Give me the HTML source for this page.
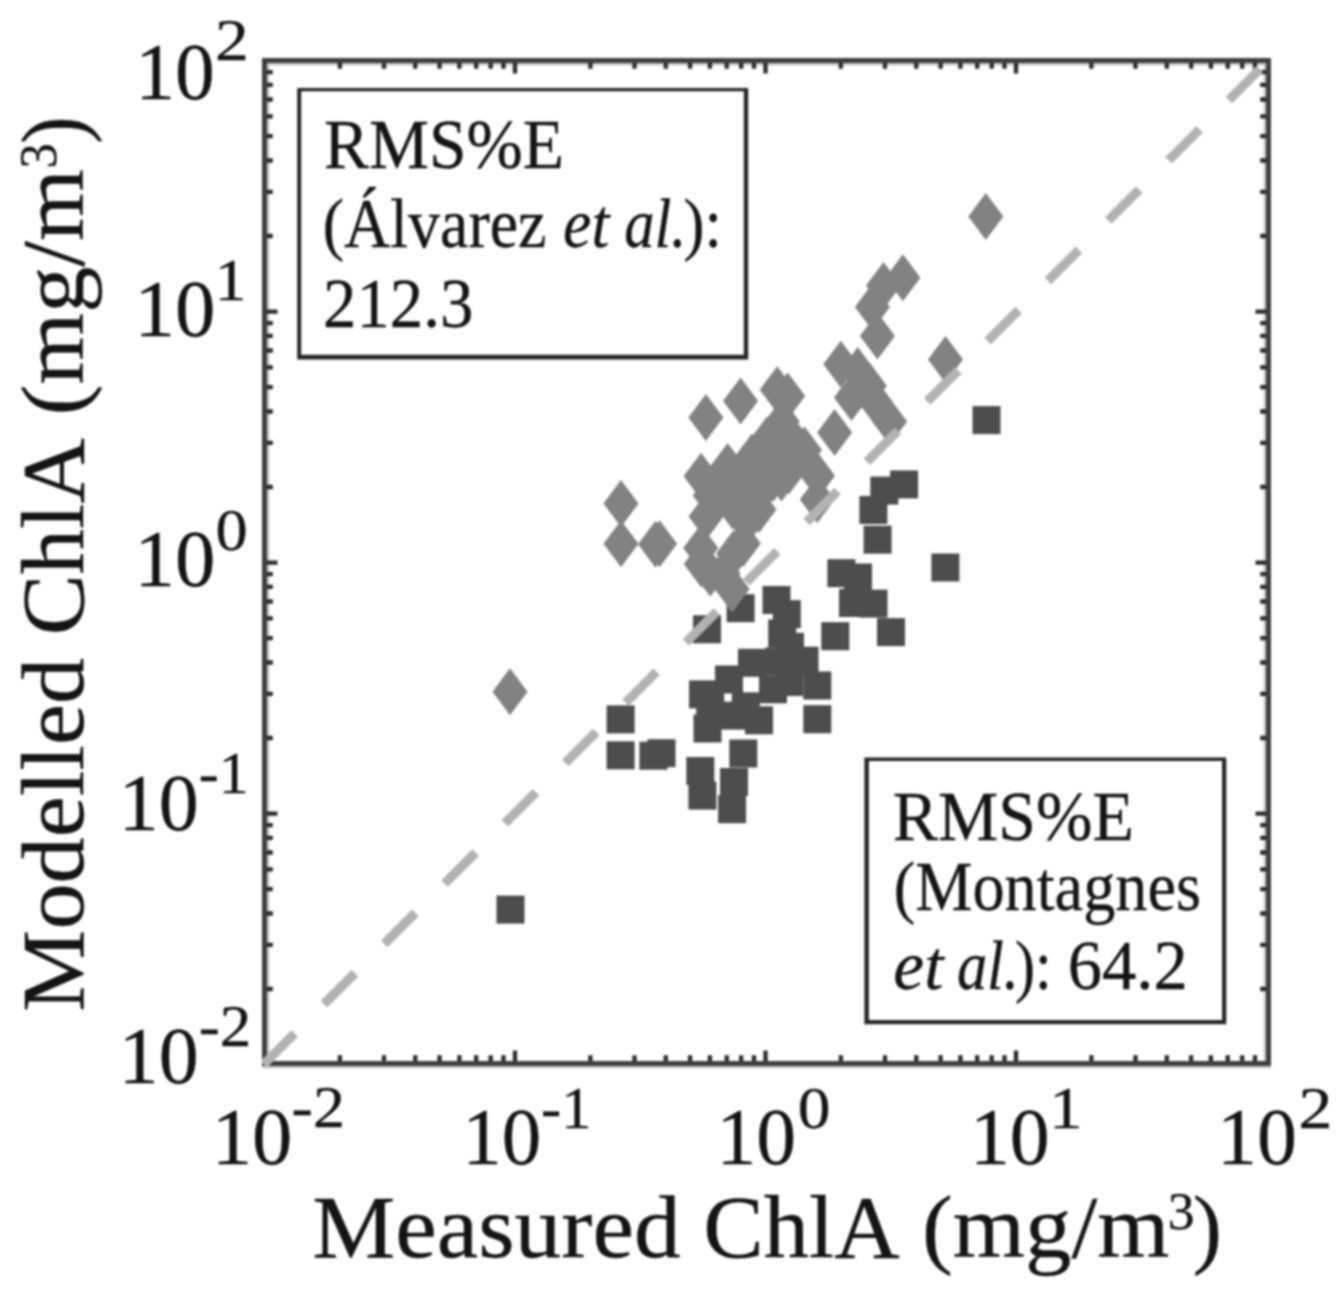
<!DOCTYPE html>
<html lang="en"><head><meta charset="utf-8"><title>Modelled vs Measured ChlA</title>
<style>html,body{margin:0;padding:0;background:#fff}svg{display:block;filter:blur(1px)}text{stroke:#141414;stroke-width:.35px}</style></head>
<body>
<svg width="1342" height="1291" viewBox="0 0 1342 1291" font-family="'Liberation Serif', serif" fill="#141414">
<rect width="1342" height="1291" fill="#fff"/>
<g fill="#4d4d4d">
<rect x="496.5" y="895.6" width="28.0" height="28.0"/>
<rect x="606.6" y="705.4" width="28.0" height="28.0"/>
<rect x="606.6" y="741.3" width="28.0" height="28.0"/>
<rect x="639.4" y="741.7" width="28.0" height="28.0"/>
<rect x="647.5" y="739.2" width="28.0" height="28.0"/>
<rect x="693.0" y="615.3" width="28.0" height="28.0"/>
<rect x="726.6" y="594.2" width="28.0" height="28.0"/>
<rect x="762.5" y="586.0" width="28.0" height="28.0"/>
<rect x="772.8" y="600.2" width="28.0" height="28.0"/>
<rect x="768.2" y="619.5" width="28.0" height="28.0"/>
<rect x="776.0" y="632.8" width="28.0" height="28.0"/>
<rect x="738.0" y="648.8" width="28.0" height="28.0"/>
<rect x="790.5" y="646.7" width="28.0" height="28.0"/>
<rect x="715.0" y="665.5" width="28.0" height="28.0"/>
<rect x="689.0" y="680.4" width="28.0" height="28.0"/>
<rect x="693.5" y="714.5" width="28.0" height="28.0"/>
<rect x="803.3" y="671.5" width="28.0" height="28.0"/>
<rect x="803.3" y="705.2" width="28.0" height="28.0"/>
<rect x="775.3" y="668.0" width="28.0" height="28.0"/>
<rect x="759.0" y="675.3" width="28.0" height="28.0"/>
<rect x="745.0" y="706.3" width="28.0" height="28.0"/>
<rect x="718.7" y="701.6" width="28.0" height="28.0"/>
<rect x="731.8" y="692.3" width="28.0" height="28.0"/>
<rect x="696.2" y="692.3" width="28.0" height="28.0"/>
<rect x="821.3" y="622.2" width="28.0" height="28.0"/>
<rect x="827.4" y="559.2" width="28.0" height="28.0"/>
<rect x="844.0" y="563.5" width="28.0" height="28.0"/>
<rect x="839.0" y="589.0" width="28.0" height="28.0"/>
<rect x="859.5" y="589.6" width="28.0" height="28.0"/>
<rect x="877.0" y="618.1" width="28.0" height="28.0"/>
<rect x="863.6" y="525.7" width="28.0" height="28.0"/>
<rect x="859.4" y="496.0" width="28.0" height="28.0"/>
<rect x="870.3" y="476.6" width="28.0" height="28.0"/>
<rect x="890.1" y="470.4" width="28.0" height="28.0"/>
<rect x="931.4" y="553.5" width="28.0" height="28.0"/>
<rect x="972.5" y="406.1" width="28.0" height="28.0"/>
<rect x="729.3" y="739.5" width="28.0" height="28.0"/>
<rect x="686.3" y="757.0" width="28.0" height="28.0"/>
<rect x="688.4" y="781.6" width="28.0" height="28.0"/>
<rect x="718.1" y="795.2" width="28.0" height="28.0"/>
<rect x="720.0" y="768.0" width="28.0" height="28.0"/>
<rect x="765.2" y="647.4" width="28.0" height="28.0"/>
</g>
<g fill="#828282">
<path d="M510.0 668.2L527.5 691.7L510.0 715.2L492.5 691.7Z"/>
<path d="M621.0 480.0L638.5 503.5L621.0 527.0L603.5 503.5Z"/>
<path d="M621.0 520.3L638.5 543.8L621.0 567.3L603.5 543.8Z"/>
<path d="M655.5 520.8L673.0 544.3L655.5 567.8L638.0 544.3Z"/>
<path d="M659.6 520.3L677.1 543.8L659.6 567.3L642.1 543.8Z"/>
<path d="M705.9 394.1L723.4 417.6L705.9 441.1L688.4 417.6Z"/>
<path d="M740.6 377.4L758.1 400.9L740.6 424.4L723.1 400.9Z"/>
<path d="M777.2 366.2L794.7 389.7L777.2 413.2L759.7 389.7Z"/>
<path d="M787.7 372.4L805.2 395.9L787.7 419.4L770.2 395.9Z"/>
<path d="M782.2 398.0L799.7 421.5L782.2 445.0L764.7 421.5Z"/>
<path d="M790.0 412.5L807.5 436.0L790.0 459.5L772.5 436.0Z"/>
<path d="M752.0 433.5L769.5 457.0L752.0 480.5L734.5 457.0Z"/>
<path d="M804.5 426.5L822.0 450.0L804.5 473.5L787.0 450.0Z"/>
<path d="M727.6 442.9L745.1 466.4L727.6 489.9L710.1 466.4Z"/>
<path d="M701.1 452.8L718.6 476.3L701.1 499.8L683.6 476.3Z"/>
<path d="M706.1 493.0L723.6 516.5L706.1 540.0L688.6 516.5Z"/>
<path d="M817.5 452.2L835.0 475.7L817.5 499.2L800.0 475.7Z"/>
<path d="M817.3 476.0L834.8 499.5L817.3 523.0L799.8 499.5Z"/>
<path d="M788.8 447.5L806.3 471.0L788.8 494.5L771.3 471.0Z"/>
<path d="M773.0 455.0L790.5 478.5L773.0 502.0L755.5 478.5Z"/>
<path d="M759.0 486.0L776.5 509.5L759.0 533.0L741.5 509.5Z"/>
<path d="M732.7 482.5L750.2 506.0L732.7 529.5L715.2 506.0Z"/>
<path d="M745.8 472.0L763.3 495.5L745.8 519.0L728.3 495.5Z"/>
<path d="M710.2 472.0L727.7 495.5L710.2 519.0L692.7 495.5Z"/>
<path d="M834.6 409.1L852.1 432.6L834.6 456.1L817.1 432.6Z"/>
<path d="M840.8 340.7L858.3 364.2L840.8 387.7L823.3 364.2Z"/>
<path d="M857.7 346.9L875.2 370.4L857.7 393.9L840.2 370.4Z"/>
<path d="M851.5 373.9L869.0 397.4L851.5 420.9L834.0 397.4Z"/>
<path d="M875.0 378.0L892.5 401.5L875.0 425.0L857.5 401.5Z"/>
<path d="M889.6 398.1L907.1 421.6L889.6 445.1L872.1 421.6Z"/>
<path d="M877.4 312.6L894.9 336.1L877.4 359.6L859.9 336.1Z"/>
<path d="M872.4 283.4L889.9 306.9L872.4 330.4L854.9 306.9Z"/>
<path d="M883.5 262.0L901.0 285.5L883.5 309.0L866.0 285.5Z"/>
<path d="M902.9 254.3L920.4 277.8L902.9 301.3L885.4 277.8Z"/>
<path d="M945.5 336.1L963.0 359.6L945.5 383.1L928.0 359.6Z"/>
<path d="M985.8 192.9L1003.3 216.4L985.8 239.9L968.3 216.4Z"/>
<path d="M743.3 520.0L760.8 543.5L743.3 567.0L725.8 543.5Z"/>
<path d="M700.7 524.5L718.2 548.0L700.7 571.5L683.2 548.0Z"/>
<path d="M701.3 540.5L718.8 564.0L701.3 587.5L683.8 564.0Z"/>
<path d="M732.1 565.5L749.6 589.0L732.1 612.5L714.6 589.0Z"/>
<path d="M733.6 530.0L751.1 553.5L733.6 577.0L716.1 553.5Z"/>
<path d="M710.3 549.7L727.8 573.2L710.3 596.7L692.8 573.2Z"/>
<path d="M767.0 416.5L784.5 440.0L767.0 463.5L749.5 440.0Z"/>
<path d="M740.0 454.5L757.5 478.0L740.0 501.5L722.5 478.0Z"/>
<path d="M762.0 466.5L779.5 490.0L762.0 513.5L744.5 490.0Z"/>
<path d="M722.0 462.5L739.5 486.0L722.0 509.5L704.5 486.0Z"/>
<path d="M746.5 498.5L764.0 522.0L746.5 545.5L729.0 522.0Z"/>
<path d="M781.5 454.5L799.0 478.0L781.5 501.5L764.0 478.0Z"/>
<path d="M778.0 428.5L795.5 452.0L778.0 475.5L760.5 452.0Z"/>
<path d="M869.3 362.2L886.8 385.7L869.3 409.2L851.8 385.7Z"/>
<path d="M765.0 440.5L782.5 464.0L765.0 487.5L747.5 464.0Z"/>
<path d="M723.0 550.0L740.5 573.5L723.0 597.0L705.5 573.5Z"/>
</g>
<g stroke="#3f3f3f" fill="none">
<rect x="264.5" y="60.5" width="1004.0" height="1003.0" stroke-width="5"/>
<path d="M268.2 63.0V1061.0M267.0 64.2H1266.0M1264.8 63.0V1061.0M262.0 1067.2H1271.0" stroke="#c9c9c9" stroke-width="2.4"/>
<path d="M339.9 1061.0v-5.8M339.9 63.0v5.8M267.0 989.0h5.8M1266.0 989.0h-5.8M384.0 1061.0v-5.8M384.0 63.0v5.8M267.0 944.8h5.8M1266.0 944.8h-5.8M415.3 1061.0v-5.8M415.3 63.0v5.8M267.0 913.5h5.8M1266.0 913.5h-5.8M439.6 1061.0v-5.8M439.6 63.0v5.8M267.0 889.2h5.8M1266.0 889.2h-5.8M459.4 1061.0v-5.8M459.4 63.0v5.8M267.0 869.3h5.8M1266.0 869.3h-5.8M476.2 1061.0v-5.8M476.2 63.0v5.8M267.0 852.5h5.8M1266.0 852.5h-5.8M490.7 1061.0v-5.8M490.7 63.0v5.8M267.0 837.9h5.8M1266.0 837.9h-5.8M503.5 1061.0v-5.8M503.5 63.0v5.8M267.0 825.1h5.8M1266.0 825.1h-5.8M515.0 1061.0v-10.5M515.0 63.0v10.5M267.0 813.6h10.5M1266.0 813.6h-10.5M590.4 1061.0v-5.8M590.4 63.0v5.8M267.0 738.0h5.8M1266.0 738.0h-5.8M634.5 1061.0v-5.8M634.5 63.0v5.8M267.0 693.8h5.8M1266.0 693.8h-5.8M665.8 1061.0v-5.8M665.8 63.0v5.8M267.0 662.5h5.8M1266.0 662.5h-5.8M690.1 1061.0v-5.8M690.1 63.0v5.8M267.0 638.2h5.8M1266.0 638.2h-5.8M709.9 1061.0v-5.8M709.9 63.0v5.8M267.0 618.3h5.8M1266.0 618.3h-5.8M726.7 1061.0v-5.8M726.7 63.0v5.8M267.0 601.5h5.8M1266.0 601.5h-5.8M741.2 1061.0v-5.8M741.2 63.0v5.8M267.0 586.9h5.8M1266.0 586.9h-5.8M754.0 1061.0v-5.8M754.0 63.0v5.8M267.0 574.1h5.8M1266.0 574.1h-5.8M765.5 1061.0v-10.5M765.5 63.0v10.5M267.0 562.6h10.5M1266.0 562.6h-10.5M840.9 1061.0v-5.8M840.9 63.0v5.8M267.0 487.0h5.8M1266.0 487.0h-5.8M885.0 1061.0v-5.8M885.0 63.0v5.8M267.0 442.8h5.8M1266.0 442.8h-5.8M916.3 1061.0v-5.8M916.3 63.0v5.8M267.0 411.5h5.8M1266.0 411.5h-5.8M940.6 1061.0v-5.8M940.6 63.0v5.8M267.0 387.2h5.8M1266.0 387.2h-5.8M960.4 1061.0v-5.8M960.4 63.0v5.8M267.0 367.3h5.8M1266.0 367.3h-5.8M977.2 1061.0v-5.8M977.2 63.0v5.8M267.0 350.5h5.8M1266.0 350.5h-5.8M991.7 1061.0v-5.8M991.7 63.0v5.8M267.0 335.9h5.8M1266.0 335.9h-5.8M1004.5 1061.0v-5.8M1004.5 63.0v5.8M267.0 323.1h5.8M1266.0 323.1h-5.8M1016.0 1061.0v-10.5M1016.0 63.0v10.5M267.0 311.6h10.5M1266.0 311.6h-10.5M1091.4 1061.0v-5.8M1091.4 63.0v5.8M267.0 236.0h5.8M1266.0 236.0h-5.8M1135.5 1061.0v-5.8M1135.5 63.0v5.8M267.0 191.8h5.8M1266.0 191.8h-5.8M1166.8 1061.0v-5.8M1166.8 63.0v5.8M267.0 160.5h5.8M1266.0 160.5h-5.8M1191.1 1061.0v-5.8M1191.1 63.0v5.8M267.0 136.2h5.8M1266.0 136.2h-5.8M1210.9 1061.0v-5.8M1210.9 63.0v5.8M267.0 116.3h5.8M1266.0 116.3h-5.8M1227.7 1061.0v-5.8M1227.7 63.0v5.8M267.0 99.5h5.8M1266.0 99.5h-5.8M1242.2 1061.0v-5.8M1242.2 63.0v5.8M267.0 84.9h5.8M1266.0 84.9h-5.8M1255.0 1061.0v-5.8M1255.0 63.0v5.8M267.0 72.1h5.8M1266.0 72.1h-5.8" stroke="#2b2b2b" stroke-width="4.3"/>
</g>
<clipPath id="c"><rect x="262.0" y="58.0" width="1009.0" height="1008.0"/></clipPath>
<path clip-path="url(#c)" d="M263.6 1064.4L1288.5 40.5" stroke="#b2b2b2" stroke-width="9.3" stroke-dasharray="43.84 41.44" fill="none"/>
<path fill="#fff" d="M297.2 87.9H748.2V359.6H297.2Z"/>
<path fill="#262626" fill-rule="evenodd" d="M297.2 87.9H748.2V359.6H297.2ZM301.2 91.3H743.8V354.7H301.2Z"/>
<path fill="#fff" d="M864.4 757.5H1226.3V1024.3H864.4Z"/>
<path fill="#262626" fill-rule="evenodd" d="M864.4 757.5H1226.3V1024.3H864.4ZM868.9 761H1222V1019.9H868.9Z"/>
<text x="324.04" y="167.60" font-size="69.5" textLength="239.94" lengthAdjust="spacingAndGlyphs">RMS%E</text>
<text x="322.79" y="247.30" font-size="69.5" textLength="223.68" lengthAdjust="spacingAndGlyphs">(Álvarez</text>
<text x="563.02" y="247.30" font-size="69.5" font-style="italic" textLength="46.18" lengthAdjust="spacingAndGlyphs">et</text>
<text x="624.18" y="247.30" font-size="69.5" font-style="italic" textLength="62.26" lengthAdjust="spacingAndGlyphs">al.</text>
<text x="683.58" y="247.30" font-size="69.5" textLength="38.52" lengthAdjust="spacingAndGlyphs">):</text>
<text x="323.06" y="327.00" font-size="69.5" textLength="150.35" lengthAdjust="spacingAndGlyphs">212.3</text>
<text x="892.73" y="839.70" font-size="69.5" textLength="241.07" lengthAdjust="spacingAndGlyphs">RMS%E</text>
<text x="893.87" y="910.30" font-size="69.5" textLength="307.13" lengthAdjust="spacingAndGlyphs">(Montagnes</text>
<text x="893.34" y="989.30" font-size="69.5" font-style="italic" textLength="50.24" lengthAdjust="spacingAndGlyphs">et</text>
<text x="956.89" y="989.30" font-size="69.5" font-style="italic" textLength="62.03" lengthAdjust="spacingAndGlyphs">al.</text>
<text x="1015.07" y="989.30" font-size="69.5" textLength="36.80" lengthAdjust="spacingAndGlyphs">):</text>
<text x="1067.75" y="989.30" font-size="69.5" textLength="120.02" lengthAdjust="spacingAndGlyphs">64.2</text>
<text x="135.31" y="98.50" font-size="79.5" textLength="79.41" lengthAdjust="spacingAndGlyphs">10</text>
<text x="214.93" y="59.50" font-size="60" textLength="33.79" lengthAdjust="spacingAndGlyphs">2</text>
<text x="134.59" y="336.00" font-size="79.5" textLength="80.78" lengthAdjust="spacingAndGlyphs">10</text>
<text x="214.83" y="300.00" font-size="60" textLength="31.68" lengthAdjust="spacingAndGlyphs">1</text>
<text x="134.59" y="586.30" font-size="79.5" textLength="80.78" lengthAdjust="spacingAndGlyphs">10</text>
<text x="215.45" y="550.00" font-size="60" textLength="32.19" lengthAdjust="spacingAndGlyphs">0</text>
<text x="118.78" y="830.40" font-size="79.5" textLength="79.75" lengthAdjust="spacingAndGlyphs">10</text>
<text x="198.79" y="793.40" font-size="60" textLength="49.80" lengthAdjust="spacingAndGlyphs">-1</text>
<text x="118.78" y="1082.50" font-size="79.5" textLength="79.75" lengthAdjust="spacingAndGlyphs">10</text>
<text x="198.66" y="1045.50" font-size="60" textLength="52.61" lengthAdjust="spacingAndGlyphs">-2</text>
<text x="211.71" y="1164.00" font-size="79.5" textLength="80.55" lengthAdjust="spacingAndGlyphs">10</text>
<text x="291.63" y="1127.20" font-size="60" textLength="53.40" lengthAdjust="spacingAndGlyphs">-2</text>
<text x="462.35" y="1164.00" font-size="79.5" textLength="78.95" lengthAdjust="spacingAndGlyphs">10</text>
<text x="540.96" y="1128.30" font-size="60" textLength="50.48" lengthAdjust="spacingAndGlyphs">-1</text>
<text x="716.48" y="1164.00" font-size="79.5" textLength="79.75" lengthAdjust="spacingAndGlyphs">10</text>
<text x="797.71" y="1128.30" font-size="60" textLength="32.78" lengthAdjust="spacingAndGlyphs">0</text>
<text x="969.98" y="1164.00" font-size="79.5" textLength="79.75" lengthAdjust="spacingAndGlyphs">10</text>
<text x="1049.08" y="1128.30" font-size="60" textLength="33.66" lengthAdjust="spacingAndGlyphs">1</text>
<text x="1216.97" y="1164.00" font-size="79.5" textLength="79.86" lengthAdjust="spacingAndGlyphs">10</text>
<text x="1298.42" y="1127.60" font-size="60" textLength="33.92" lengthAdjust="spacingAndGlyphs">2</text>
<text x="312.29" y="1256.50" font-size="89.5" textLength="368.32" lengthAdjust="spacingAndGlyphs">Measured</text>
<text x="703.29" y="1256.50" font-size="89.5" textLength="196.35" lengthAdjust="spacingAndGlyphs">ChlA</text>
<text x="921.92" y="1256.50" font-size="89.5" textLength="247.52" lengthAdjust="spacingAndGlyphs">(mg/m</text>
<text x="1167.63" y="1229.10" font-size="53" textLength="26.76" lengthAdjust="spacingAndGlyphs">3</text>
<text x="1192.70" y="1256.50" font-size="89.5" textLength="29.16" lengthAdjust="spacingAndGlyphs">)</text>
<g transform="translate(82.5 1009) rotate(-90)">
<text x="-2.68" y="0.00" font-size="89.5" textLength="353.74" lengthAdjust="spacingAndGlyphs">Modelled</text>
<text x="373.67" y="0.00" font-size="89.5" textLength="197.37" lengthAdjust="spacingAndGlyphs">ChlA</text>
<text x="593.54" y="0.00" font-size="89.5" textLength="246.30" lengthAdjust="spacingAndGlyphs">(mg/m</text>
<text x="840.38" y="-26.50" font-size="53" textLength="25.18" lengthAdjust="spacingAndGlyphs">3</text>
<text x="865.36" y="0.00" font-size="89.5" textLength="27.47" lengthAdjust="spacingAndGlyphs">)</text>
</g>
</svg>
</body></html>
